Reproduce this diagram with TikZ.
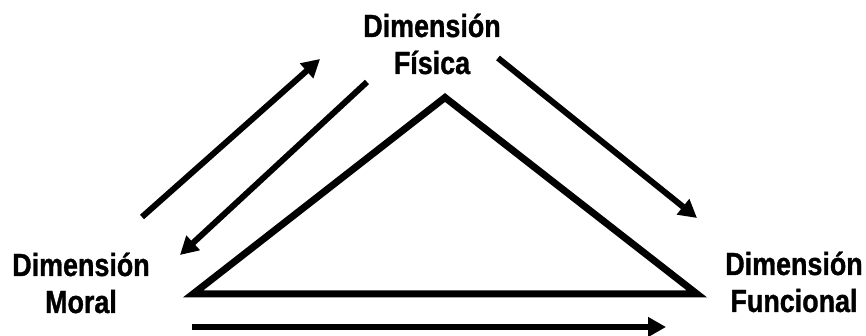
\documentclass[tikz,border=0pt]{standalone}
\usepackage{fontspec}
\newfontfamily\lblfont{Liberation Sans}[FakeStretch=0.84,FakeBold=1]
\usetikzlibrary{arrows.meta}
\begin{document}
\begin{tikzpicture}[x=1pt,y=1pt,
  lbl/.style={align=center,inner sep=0pt,anchor=base,font=\lblfont\bfseries\fontsize{32}{37}\selectfont},
  arr/.style={line width=6pt,-{Triangle[length=18pt,width=19pt]}},
  tri/.style={line width=7pt,line join=miter}]
\useasboundingbox (0,0) rectangle (866,336);
\node[lbl] (fis) at (432,262) {Dimensión\\Física};
\node[lbl] (mor) at (81,23) {Dimensión\\Moral};
\node[lbl] (fun) at (794,24) {Dimensión\\Funcional};
\coordinate (ap) at (445,238.5);
\coordinate (bl) at (193,42);
\coordinate (br) at (697,42);
\draw[tri] (ap) -- (bl) -- (br) -- cycle;
\coordinate (a1s) at (142,119);
\coordinate (a1e) at (320,277);
\coordinate (a2s) at (367,254);
\coordinate (a2e) at (180,81);
\coordinate (a3s) at (498,278);
\coordinate (a3e) at (697,118);
\coordinate (a4s) at (192,9);
\coordinate (a4e) at (666,9);
\draw[arr] (a1s) -- (a1e);
\draw[arr] (a2s) -- (a2e);
\draw[arr] (a3s) -- (a3e);
\draw[arr] (a4s) -- (a4e);
\end{tikzpicture}
\end{document}
